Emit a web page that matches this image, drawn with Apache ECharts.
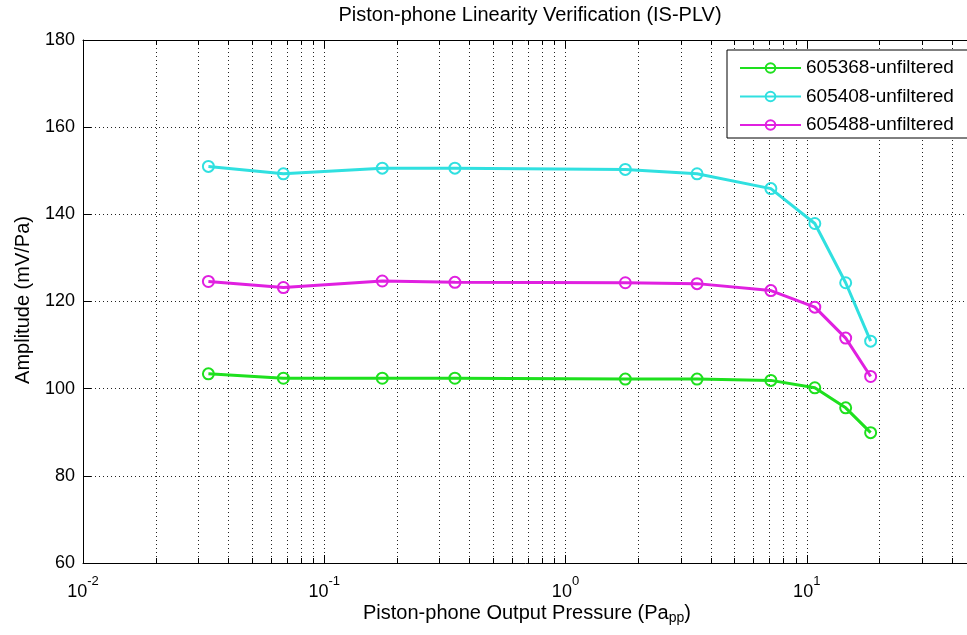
<!DOCTYPE html>
<html>
<head>
<meta charset="utf-8">
<script src="https://cdn.jsdelivr.net/npm/echarts@6/dist/echarts.min.js"></script>
<style>
html,body{margin:0;padding:0;background:#fff;}
#chart{width:967px;height:635px;}
</style>
</head>
<body>
<div id="chart"></div>
<script>
// ---- data ----
const pressure = [0.0331, 0.0677, 0.174, 0.348, 1.77, 3.51, 7.1, 10.8, 14.5, 18.4];
const s605368 = [103.4, 102.4, 102.4, 102.4, 102.2, 102.2, 101.9, 100.2, 95.6, 89.9];
const s605408 = [151.0, 149.3, 150.6, 150.6, 150.3, 149.3, 145.9, 137.9, 124.3, 110.9];
const s605488 = [124.6, 123.2, 124.7, 124.4, 124.3, 124.1, 122.5, 118.7, 111.6, 102.8];
const seriesNames = ['605368-unfiltered', '605408-unfiltered', '605488-unfiltered'];
const yTicks = [60, 80, 100, 120, 140, 160, 180];
const minorGridX = [0.02,0.03,0.04,0.05,0.06,0.07,0.08,0.09,
                    0.2,0.3,0.4,0.5,0.6,0.7,0.8,0.9,
                    2,3,4,5,6,7,8,9,
                    20,30,40,50,60,70,80,90];
const titleText = 'Piston-phone Linearity Verification (IS-PLV)';
const yName = 'Amplitude (mV/Pa)';

const FONT = '"Liberation Sans", Arial, sans-serif';
const colors = ['#1ee01e', '#30e0e0', '#e020e0'];
const dotted = [1, 3];

function pairs(ys) { return pressure.map((x, i) => [x, ys[i]]); }

const chart = echarts.init(document.getElementById('chart'));
const option = {
  backgroundColor: '#fff',
  animation: false,
  textStyle: { fontFamily: FONT },
  grid: { left: 83, top: 40, right: -81, bottom: 72, containLabel: false, outerBoundsMode: 'none' },
  legend: {
    data: seriesNames,
    orient: 'vertical',
    left: 727, top: 50,
    padding: [8, 30, 3, 12],
    itemGap: 8.5,
    itemWidth: 61, itemHeight: 12,
    backgroundColor: '#fff',
    borderColor: '#000', borderWidth: 1, borderRadius: 0,
    textStyle: { fontSize: 19, color: '#000', fontFamily: FONT, lineHeight: 20 }
  },
  graphic: [
    { type: 'text', x: 530, y: 15, style: { text: titleText, fill: '#000', font: '20px ' + FONT, textAlign: 'center', textVerticalAlign: 'middle' } },
    { type: 'text', x: 23, y: 300, rotation: Math.PI / 2,
      style: { text: yName, font: '20px ' + FONT, fill: '#000', textAlign: 'center', textVerticalAlign: 'middle' } },
    { type: 'text', x: 527, y: 613,
      style: { text: '{m|Piston-phone Output Pressure (Pa}{s|pp}{m|)}', textAlign: 'center', textVerticalAlign: 'middle',
        rich: { m: { fontSize: 20, fontFamily: FONT, color: '#000', lineHeight: 24 },
                s: { fontSize: 14, fontFamily: FONT, color: '#000', lineHeight: 24, padding: [10, 0, 0, 0] } } } }
  ],
  xAxis: [{
    type: 'log', logBase: 10, min: 0.01, max: 100,
    axisLine: { show: true, onZero: false, lineStyle: { color: '#000', width: 1 } },
    axisTick: { show: true, inside: true, length: 8, lineStyle: { color: '#000' } },
    splitLine: { show: true, lineStyle: { color: '#222', type: dotted, width: 1 } },
    axisLabel: {
      margin: 12, color: '#000',
      formatter: function (v) {
        const e = Math.round(Math.log10(v));
        return '{b|10}{s|' + e + '}';
      },
      rich: {
        b: { fontSize: 18, fontFamily: FONT, color: '#000', lineHeight: 26, verticalAlign: 'bottom' },
        s: { fontSize: 13, fontFamily: FONT, color: '#000', lineHeight: 26, verticalAlign: 'top', padding: [0, 0, 14, 0] }
      }
    }
  }, {
    type: 'log', logBase: 10, min: 0.01, max: 100, position: 'top',
    axisLine: { show: true, onZero: false, lineStyle: { color: '#000', width: 1 } },
    axisTick: { show: true, inside: true, length: 8, lineStyle: { color: '#000' } },
    splitLine: { show: false }, axisLabel: { show: false }
  }],
  yAxis: [{
    type: 'value', min: 60, max: 180, interval: 20,
    axisLine: { show: true, onZero: false, lineStyle: { color: '#000', width: 1 } },
    axisTick: { show: true, inside: true, length: 8, lineStyle: { color: '#000' } },
    splitLine: { show: true, lineStyle: { color: '#222', type: dotted, width: 1 } },
    axisLabel: { margin: 8, color: '#000', fontSize: 18, fontFamily: FONT,
      formatter: function (v) { return yTicks.indexOf(v) >= 0 ? String(v) : ''; } }
  }],
  series: [
    {
      type: 'custom', name: 'minor', silent: true, z: 1,
      xAxisIndex: 0, yAxisIndex: 0,
      data: minorGridX.map(v => [v]),
      encode: { x: 0 },
      renderItem: function (params, api) {
        const cs = params.coordSys;
        const x = Math.round(api.coord([api.value(0), 60])[0]) + 0.5;
        const top = cs.y, bot = cs.y + cs.height;
        return { type: 'group', children: [
          { type: 'line', shape: { x1: x, y1: top, x2: x, y2: bot }, style: { stroke: '#222', lineWidth: 1, lineDash: dotted } },
          { type: 'line', shape: { x1: x, y1: bot, x2: x, y2: bot - 5 }, style: { stroke: '#000', lineWidth: 1 } },
          { type: 'line', shape: { x1: x, y1: top, x2: x, y2: top + 5 }, style: { stroke: '#000', lineWidth: 1 } }
        ] };
      }
    },
    ...[s605368, s605408, s605488].map((ys, i) => ({
      type: 'line', name: seriesNames[i], data: pairs(ys), z: 5,
      symbol: 'circle', symbolSize: 11, showSymbol: true,
      itemStyle: { color: 'rgba(255,255,255,0)', borderColor: colors[i], borderWidth: 2 },
      lineStyle: { color: colors[i], width: 3 },
      color: colors[i]
    }))
  ]
};
chart.setOption(option);
</script>
</body>
</html>
